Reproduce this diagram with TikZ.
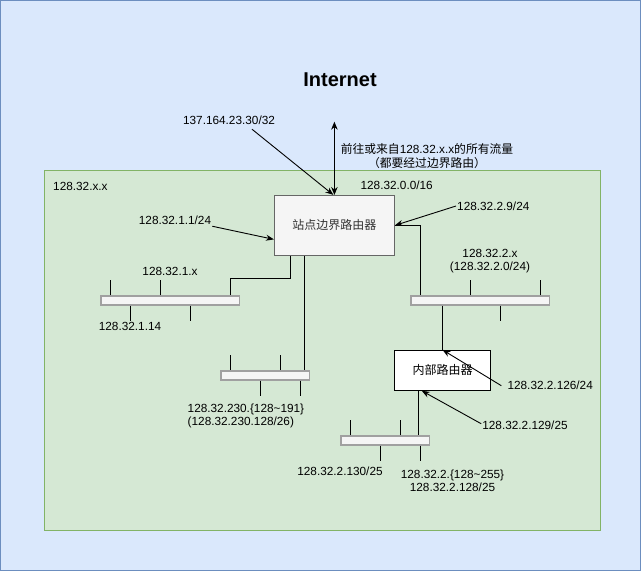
\documentclass[tikz,border=0pt]{standalone}
\usepackage{fontspec}
\setmainfont{Liberation Sans}
\newfontfamily\cjk{Noto Sans CJK SC}
\usetikzlibrary{arrows.meta}
\definecolor{bgblue}{HTML}{DAE8FC}
\definecolor{bgblueline}{HTML}{6C8EBF}
\definecolor{sitegreen}{HTML}{D5E8D4}
\definecolor{sitegreenline}{HTML}{82B366}
\definecolor{boxgray}{HTML}{F5F5F5}
\definecolor{boxline}{HTML}{666666}
\definecolor{busline}{HTML}{A0A0A0}
\tikzset{
  router/.style={draw=boxline, fill=boxgray, text=black!80, line width=0.9pt,
    minimum width=120pt, minimum height=60pt, font=\fontsize{12}{14}\cjk},
  bus/.style={draw=busline, fill=boxgray, line width=1.6pt, minimum height=9pt, inner sep=0pt},
  wire/.style={line width=0.9pt},
  arr/.style={wire, -{Stealth[length=8pt,width=6pt]}},
}
\begin{document}
\begin{tikzpicture}[x=1pt, y=-1pt, every node/.style={inner sep=1pt, font=\fontsize{11.8}{13.4}\selectfont}]
  \useasboundingbox (0,0) rectangle (641,571);
  \draw[fill=bgblue, draw=bgblueline, line width=1pt] (0.5,0.5) rectangle (640.5,570.5);
  \draw[fill=sitegreen, draw=sitegreenline, line width=1pt] (44.5,170.5) rectangle (600.5,530.5);
  \node[font=\bfseries\fontsize{20}{24}\selectfont] (inet) at (340,80) {Internet};
  \node[router] (br) at (334.4,225.4) {站点边界路由器};
  \node[router, fill=white, draw=black, text=black, minimum width=96pt, minimum height=40pt] (ir) at (442.5,370.3) {内部路由器};
  \node[bus, minimum width=138.5pt] (bus1) at (170.3,300.4) {};
  \node[bus, minimum width=138.5pt] (bus2) at (480.3,300.4) {};
  \node[bus, minimum width=88.5pt] (bus3) at (265.3,375.2) {};
  \node[bus, minimum width=88.5pt] (bus4) at (385.3,440.4) {};
  \foreach \b/\dx in {bus1/10, bus1/60, bus2/60, bus2/130, bus3/10, bus3/60, bus4/10, bus4/60}
    \draw[wire] ([xshift=\dx pt]\b.north west) -- ++(0,-15);
  \foreach \b/\dx in {bus1/30, bus1/90, bus2/90, bus3/40, bus3/80, bus4/40, bus4/80}
    \draw[wire] ([xshift=\dx pt]\b.south west) -- ++(0,15);
  \coordinate (br1) at ([xshift=-43.7pt]br.south);
  \coordinate (br3) at ([xshift=-30pt]br.south);
  \coordinate (ir4) at ([xshift=-23.8pt]ir.south);
  \coordinate (up) at (334.4,121.7);
  \draw[wire] (br1) -- ++(0,23) -| ([xshift=130pt]bus1.north west);
  \draw[wire] (br3) -- (br3 |- bus3.north);
  \draw[wire] (br.east) -| ([xshift=10pt]bus2.north west);
  \draw[wire] (ir.north |- bus2.south) -- (ir.north);
  \draw[wire] (ir4) -- (ir4 |- bus4.north);
  \draw[wire, {Stealth[length=8pt,width=6.5pt]}-{Stealth[length=8pt,width=6.5pt]}] (br.north) -- (up);
  \node (lbext) at (229,120.7) {137.164.23.30/32};
  \draw[arr] ([xshift=23pt,yshift=-3pt]lbext.south) -- ([xshift=-1pt]br.north);
  \node[align=center] (traffic) at (427,156) {{\cjk 前往或来自}128.32.x.x{\cjk 的所有流量}\\{\cjk （都要经过边界路由）}};
  \node[anchor=west] (site) at (52,186) {128.32.x.x};
  \node (net) at (396.7,185.7) {128.32.0.0/16};
  \node (lb11) at (175,220.7) {128.32.1.1/24};
  \draw[arr] (lb11.south east) -- ([yshift=-14pt]br.west);
  \node (lb29) at (493.3,206) {128.32.2.9/24};
  \draw[arr] (lb29.west) -- (br.east);
  \node[align=center] (lb2x) at (490,261) {128.32.2.x\\(128.32.2.0/24)};
  \node (lb1x) at (170,271) {128.32.1.x};
  \node (lb114) at (130,326.3) {128.32.1.14};
  \node[align=left, anchor=west] (lb230) at (186.5,416) {128.32.230.\{128\textasciitilde 191\}\\(128.32.230.128/26)};
  \node (lb126) at (550.2,385.7) {128.32.2.126/24};
  \draw[arr] ([xshift=-5pt]lb126.west) -- (ir.north);
  \node (lb129) at (525,425.7) {128.32.2.129/25};
  \draw[arr] ([yshift=2pt]lb129.west) -- ([xshift=-20.8pt]ir.south);
  \node (lb130) at (340,471) {128.32.2.130/25};
  \node[align=center] (lb2128) at (452.5,480.7) {128.32.2.\{128\textasciitilde 255\}\\128.32.2.128/25};
\end{tikzpicture}
\end{document}
